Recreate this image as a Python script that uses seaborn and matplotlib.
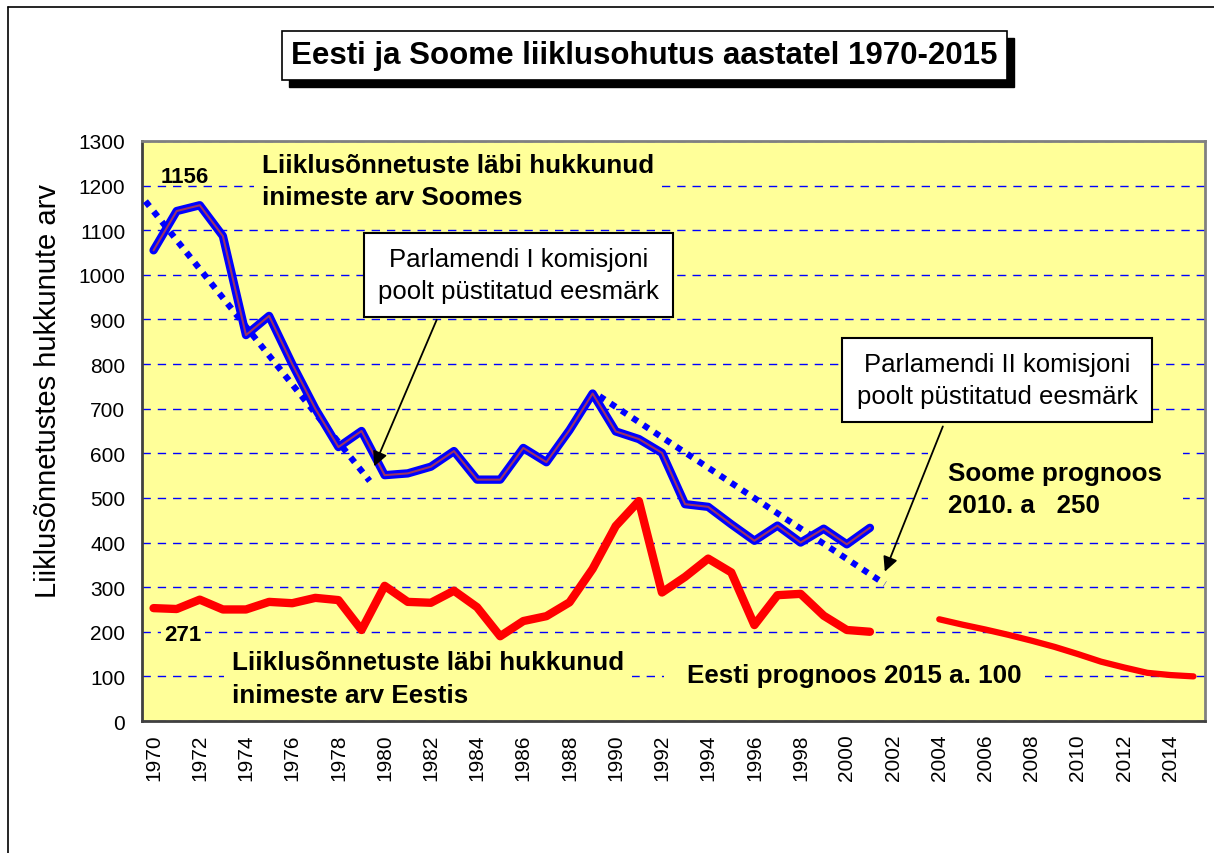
import numpy as np
import matplotlib.pyplot as plt
import pandas as pd
import seaborn as sns
from matplotlib.lines import Line2D
from matplotlib.patches import Rectangle

# hukkunute arv aastate kaupa
years = list(range(1970, 2002))
soome = [1055, 1143, 1156, 1087, 865, 908, 800, 700, 614, 650,
         551, 555, 570, 605, 541, 541, 612, 580, 652, 734,
         649, 632, 601, 486, 480, 441, 404, 438, 400, 431,
         396, 433]
eesti = [253, 251, 272, 250, 250, 267, 264, 276, 271, 204,
         303, 267, 265, 292, 255, 190, 224, 235, 266, 341,
         437, 493, 288, 323, 364, 333, 215, 282, 285, 236,
         204, 200]
prog_years = list(range(2004, 2016))
eesti_prog = [228, 216, 205, 193, 180, 166, 150, 133, 120, 108, 103, 100]

# parlamendi komisjonide eesmärgid (punktiirjooned)
siht1_x = [1969.65, 1979.35]
siht1_y = [1165, 538]
siht2_x = [1989.3, 2001.65]
siht2_y = [728, 307]

df_fi = pd.DataFrame({'aasta': years, 'hukkunud': soome})
df_ee = pd.DataFrame({'aasta': years, 'hukkunud': eesti})
df_prog = pd.DataFrame({'aasta': prog_years, 'hukkunud': eesti_prog})

sns.set_style('white')
plt.rcParams['font.family'] = ['Liberation Sans', 'DejaVu Sans']
for k in ['text.color', 'axes.labelcolor', 'xtick.color', 'ytick.color']:
    plt.rcParams[k] = 'black'

W, H = 1214, 854
fig = plt.figure(figsize=(W / 100, H / 100), dpi=100)
ax = fig.add_axes([142 / W, 1 - 722 / H, 1063 / W, 580 / H])
ax.set_facecolor('#FFFF99')

ax.set_axisbelow(True)
ax.grid(axis='y', color='#0000FF', linestyle=(0, (6, 5)), lw=1)
ax.grid(axis='x', visible=False)

sns.lineplot(x=siht1_x, y=siht1_y, ax=ax, color='#0000FF', lw=4.5,
             linestyle=(0, (1, 1.1)), zorder=3)
sns.lineplot(x=siht2_x, y=siht2_y, ax=ax, color='#0000FF', lw=4.5,
             linestyle=(0, (1, 1.1)), zorder=3)

sns.lineplot(data=df_fi, x='aasta', y='hukkunud', ax=ax, color='#0000FF', lw=6, zorder=4)
sns.lineplot(data=df_fi, x='aasta', y='hukkunud', ax=ax, color='#993366', lw=1.5, zorder=4)
sns.lineplot(data=df_ee, x='aasta', y='hukkunud', ax=ax, color='#FF0000', lw=6, zorder=4)
sns.lineplot(data=df_prog, x='aasta', y='hukkunud', ax=ax, color='#FF0000', lw=4.5, zorder=4)

ax.set_ylim(0, 1300)
ax.set_yticks(range(0, 1301, 100))
ax.set_xlim(1969.5, 2015.5)
ax.set_xticks(range(1970, 2015, 2))
ax.set_xticks(np.arange(1969.5, 2016, 1), minor=True)
ax.tick_params(axis='x', which='major', length=0, pad=9, labelsize=15, labelrotation=90)
ax.tick_params(axis='x', which='minor', length=5, width=1.2, color='black', direction='out')
ax.tick_params(axis='y', length=6, width=1.2, color='black', direction='out', pad=6, labelsize=15)
ax.set_xlabel('')
ax.set_ylabel('Liiklusõnnetustes hukkunute arv', fontsize=21)
ax.yaxis.set_label_coords(-0.075, 0.571)

for s in ['top', 'right']:
    ax.spines[s].set_color('#808080')
    ax.spines[s].set_linewidth(2)
for s in ['left', 'bottom']:
    ax.spines[s].set_color('#404040')
    ax.spines[s].set_linewidth(2)

YEL = '#FFFF99'
bold = dict(fontweight='bold', fontsize=18.7, va='center', ha='left', zorder=2, linespacing=1.45)

ax.text(1970.3, 1221, '1156', fontweight='bold', fontsize=16, va='center', zorder=2)
ax.text(1974.7, 1210, 'Liiklusõnnetuste läbi hukkunud\ninimeste arv Soomes',
        bbox=dict(boxstyle='square,pad=0.3', fc=YEL, ec='none'), **bold)
ax.text(2004.4, 520, 'Soome prognoos\n2010. a   250',
        bbox=dict(boxstyle='square,pad=0.8', fc=YEL, ec='none'), **bold)
ax.text(1970.45, 193, '271', fontweight='bold', fontsize=16, va='center', zorder=2,
        bbox=dict(boxstyle='square,pad=0.15', fc=YEL, ec='none'))
ax.text(1973.4, 95, 'Liiklusõnnetuste läbi hukkunud\ninimeste arv Eestis',
        bbox=dict(boxstyle='square,pad=0.3', fc=YEL, ec='none'), **bold)
ax.text(1993.1, 103, 'Eesti prognoos 2015 a. 100',
        bbox=dict(boxstyle='square,pad=0.9', fc=YEL, ec='none'), **bold)

box = dict(boxstyle='square,pad=0.55', fc='white', ec='black', lw=1.5)
ax.text(1985.8, 1000, 'Parlamendi I komisjoni\npoolt püstitatud eesmärk',
        ha='center', va='center', fontsize=18.5, bbox=box, zorder=6, linespacing=1.4)
ax.text(2006.5, 764, 'Parlamendi II komisjoni\npoolt püstitatud eesmärk',
        ha='center', va='center', fontsize=18.5, bbox=box, zorder=6, linespacing=1.4)

arrow = dict(arrowstyle='-|>', color='black', lw=1.3, mutation_scale=22)
ax.annotate('', xy=(1979.5, 565), xytext=(1982.3, 905), arrowprops=arrow, zorder=7)
ax.annotate('', xy=(2001.6, 329), xytext=(2004.2, 666), arrowprops=arrow, zorder=7)

title = 'Eesti ja Soome liiklusohutus aastatel 1970-2015'
t = fig.text(0.531, 0.934, title, ha='center', va='center', fontsize=22.5, fontweight='bold',
             bbox=dict(boxstyle='square,pad=0.3', fc='white', ec='black', lw=1.2), zorder=3)

fig.canvas.draw()
bb = t.get_bbox_patch().get_window_extent()
fig.add_artist(Rectangle(((bb.x0 + 7) / W, (bb.y0 - 7) / H), bb.width / W, bb.height / H,
                         transform=fig.transFigure, fc='black', ec='black', zorder=2))

fig.add_artist(Line2D([8 / W, 8 / W], [0, 1 - 8 / H], color='black', lw=1.2))
fig.add_artist(Line2D([8 / W, 1], [1 - 8 / H, 1 - 8 / H], color='black', lw=1.2))

fig.savefig('out.png', dpi=100)
